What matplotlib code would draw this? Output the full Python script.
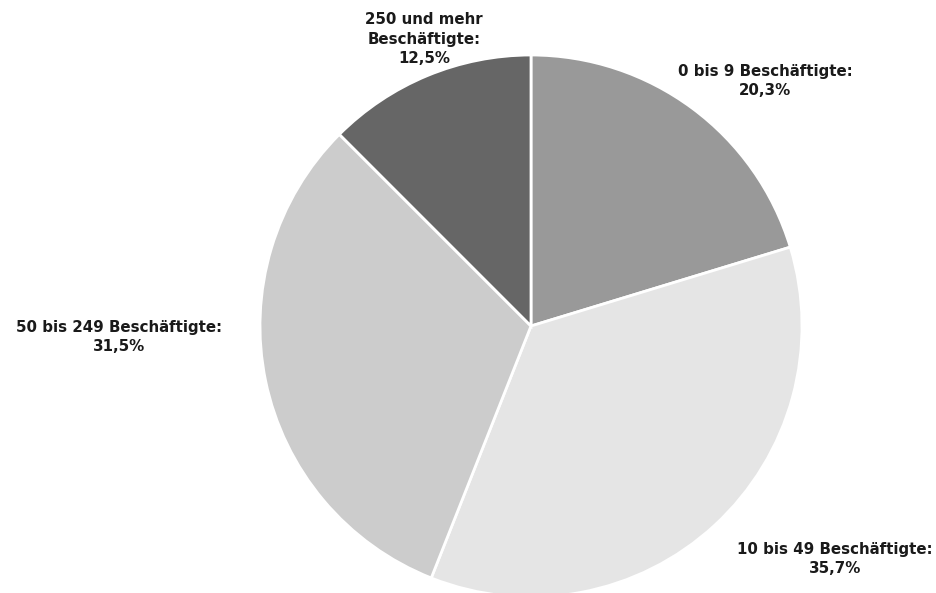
import matplotlib
matplotlib.use("Agg")
import matplotlib.pyplot as plt

categories = ["0 bis 9 Beschäftigte", "10 bis 49 Beschäftigte",
              "50 bis 249 Beschäftigte", "250 und mehr\nBeschäftigte"]
values = [20.3, 35.7, 31.5, 12.5]
colors = ["#999999", "#e5e5e5", "#cccccc", "#666666"]

W, H = 937, 593
fig = plt.figure(figsize=(W / 100, H / 100), dpi=100)
ax = fig.add_axes([0, 0, 1, 1])
cx, cy, r = 531, H - 326, 271
ax.pie(values, colors=colors, startangle=90, counterclock=False,
       center=(cx, cy), radius=r,
       wedgeprops=dict(edgecolor="white", linewidth=2))
ax.set_xlim(0, W)
ax.set_ylim(0, H)
ax.set_aspect("equal")
ax.axis("off")

def fmt(v):
    return f"{v:.1f}".replace(".", ",") + "%"

label_pos = [(765, 81), (835, 559), (119, 337), (424, 39)]
for cat, v, (x, y) in zip(categories, values, label_pos):
    ax.text(x, H - y, f"{cat}:\n{fmt(v)}", ha="center", va="center",
            fontsize=10.8, fontweight="bold", color="#1a1a1a",
            linespacing=1.35, family="DejaVu Sans")

fig.savefig("out.png", dpi=100, facecolor="white")
